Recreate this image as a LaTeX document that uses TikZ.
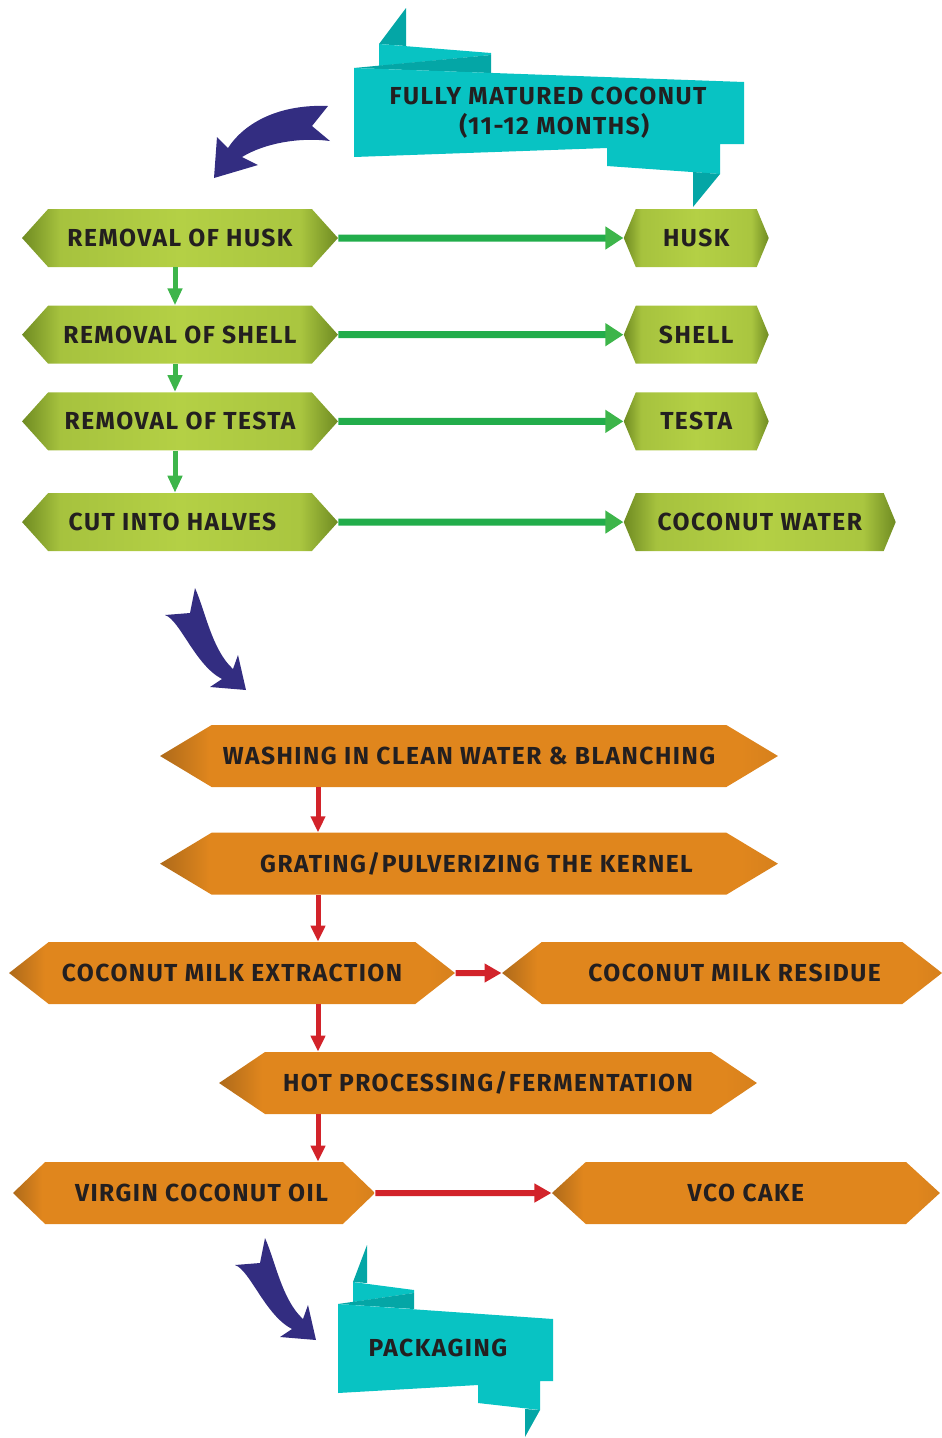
\documentclass[tikz,border=0pt]{standalone}
\usepackage{fontspec}
\setmainfont{Fira Sans}[LetterSpace=6]
\usepackage{tikz}
\usetikzlibrary{arrows.meta, positioning, shapes.symbols}

\definecolor{gdark}{HTML}{6F8B22}
\definecolor{glight}{HTML}{B4D045}
\definecolor{odark}{HTML}{AE6A1A}
\definecolor{olight}{HTML}{E0861D}
\definecolor{gline}{HTML}{22AD4B}
\definecolor{ghead}{HTML}{3DB54A}
\definecolor{rline}{HTML}{D2232A}
\definecolor{ribbon}{HTML}{08C3C3}
\definecolor{ribbondark}{HTML}{04A6A6}
\definecolor{curlblue}{HTML}{332D81}
\definecolor{txt}{HTML}{231F20}

\pgfdeclarehorizontalshading{greenhex}{100bp}{color(0bp)=(gdark); color(25bp)=(gdark); color(31bp)=(glight!80!gdark); color(50bp)=(glight); color(69bp)=(glight!85!gdark); color(75bp)=(gdark); color(100bp)=(gdark)}
\pgfdeclarehorizontalshading{orangehex}{100bp}{color(0bp)=(odark); color(25bp)=(odark); color(29bp)=(olight); color(72bp)=(olight); color(75bp)=(olight!80!odark); color(100bp)=(olight!80!odark)}

\tikzstyle{garrow} = [line width=1.4mm, gline, -{Triangle[length=3.6mm, width=4.4mm, color=ghead]}]
\tikzstyle{gdown} = [line width=1mm, ghead, -{Triangle[length=3.4mm, width=2.8mm]}]
\tikzstyle{rarrow} = [line width=1mm, rline, -{Triangle[length=3.2mm, width=2.8mm]}]
\tikzstyle{rside} = [line width=1.2mm, rline, -{Triangle[length=3.4mm, width=3.6mm]}]
\tikzstyle{curl} = [fill=curlblue]

\tikzset{
	greenhex/.style = {shape=signal, signal to=west and east, shading=greenhex,
		minimum height=1.16cm, inner xsep=2mm, text=txt,
		font=\fontsize{14}{16}\selectfont\bfseries},
	orangehex/.style = {shape=signal, signal to=west and east, shading=orangehex,
		minimum height=1.24cm, inner xsep=2mm, text=txt,
		font=\fontsize{14}{16}\selectfont\bfseries},
	bannertext/.style = {align=center, text=txt,
		font=\fontsize{14}{17}\selectfont\bfseries}
}

\begin{document}
\begin{tikzpicture}[x=0.02cm, y=-0.02cm]
\useasboundingbox (0,0) rectangle (941,1438);
%----------------------------------------------------------------------------
% Ribbons
\fill[ribbondark] (379,44) -- (406,8) -- (406,46) -- cycle;
\fill[ribbon] (379,44) -- (491,53) -- (491,55) -- (379,66) -- cycle;
\fill[ribbondark] (354,68) -- (491,55) -- (491,73) -- cycle;
\fill[ribbon] (354,68) -- (744,82) -- (744,144) -- (720,144) -- (720,174) -- (607,166) -- (607,148) -- (354,157) -- cycle;
\fill[ribbondark] (693,172) -- (720,174) -- (693,207) -- cycle;
\node (matured) [bannertext] at (548,113) {FULLY MATURED COCONUT\\\hspace*{0.25cm}(11-12 MONTHS)};

\fill[ribbondark] (353,1282) -- (367,1245) -- (367,1283) -- cycle;
\fill[ribbon] (353,1282) -- (414,1290) -- (414,1293) -- (353,1302) -- cycle;
\fill[ribbondark] (338,1304) -- (414,1293) -- (414,1309) -- cycle;
\fill[ribbon] (338,1304) -- (553,1319) -- (553,1381) -- (540,1381) -- (540,1410) -- (478,1403) -- (478,1385) -- (338,1393) -- cycle;
\fill[ribbondark] (525,1409) -- (540,1410) -- (525,1437) -- cycle;
\node (packing) [bannertext] at (438,1348) {PACKAGING};

%----------------------------------------------------------------------------
% Curly arrows
\fill[curl] (328,106) -- (312,126) -- (330,141) .. controls (300,137) and (265,143) .. (242,157) -- (258,165) -- (214,178) -- (217,137) -- (228,148) .. controls (245,122) and (280,104) .. (328,106) -- cycle;
\fill[curl] (195,588) -- (190,613) -- (165,615) .. controls (180,620) and (195,665) .. (222,679) -- (210,687) -- (246,690) -- (238,655) -- (233,669) .. controls (212,650) and (205,610) .. (195,588) -- cycle;
\fill[curl, shift={(70,650)}] (195,588) -- (190,613) -- (165,615) .. controls (180,620) and (195,665) .. (222,679) -- (210,687) -- (246,690) -- (238,655) -- (233,669) .. controls (212,650) and (205,610) .. (195,588) -- cycle;

%----------------------------------------------------------------------------
% Green steps
\node (hremove) [greenhex, minimum width=6.32cm, signal pointer angle=96] at (180,238) {REMOVAL OF HUSK};
\node (sremove) [greenhex, minimum width=6.32cm, signal pointer angle=96, below=0.76cm of hremove] {REMOVAL OF SHELL};
\node (tremove) [greenhex, minimum width=6.32cm, signal pointer angle=96, below=0.56cm of sremove] {REMOVAL OF TESTA};
\node (halves) [greenhex, minimum width=6.32cm, signal pointer angle=96, below=0.84cm of tremove] {CUT INTO HALVES\hspace*{0.3cm}};

\node (husk) [greenhex, minimum width=2.9cm, signal pointer angle=135, right=5.7cm of hremove] {HUSK};
\node (shell) [greenhex, minimum width=2.9cm, signal pointer angle=135, right=5.7cm of sremove] {SHELL};
\node (testa) [greenhex, minimum width=2.9cm, signal pointer angle=135, right=5.7cm of tremove] {TESTA};
\node (cwater) [greenhex, minimum width=5.44cm, signal pointer angle=135, right=5.7cm of halves] {COCONUT WATER};

%----------------------------------------------------------------------------
% Orange steps
\node (wash) [orangehex, minimum width=12.36cm, signal pointer angle=62] at (469,756) {WASHING IN CLEAN WATER \& BLANCHING};
\node (grate) [orangehex, minimum width=12.36cm, signal pointer angle=62, below=0.9cm of wash] {\hspace*{0.3cm}GRATING/PULVERIZING THE KERNEL};
\node (milk) [orangehex, minimum width=8.92cm, signal pointer angle=76] at (232,973) {COCONUT MILK EXTRACTION};
\node (residue) [orangehex, minimum width=8.8cm, signal pointer angle=76, right=0.92cm of milk] {\hspace*{0.5cm}COCONUT MILK RESIDUE};
\node (hotproc) [orangehex, minimum width=10.76cm, signal pointer angle=68] at (488,1083) {HOT PROCESSING/FERMENTATION};
\node (vco) [orangehex, minimum width=7.24cm, signal pointer angle=88] at (194,1193) {\hspace*{0.3cm}VIRGIN COCONUT OIL};
\node (cake) [orangehex, minimum width=7.76cm, signal pointer angle=85, right=3.52cm of vco] {VCO CAKE};

%----------------------------------------------------------------------------
% Lines
\coordinate (gx) at (175,0);
\coordinate (rx) at (318,0);

\draw [garrow] (hremove) -- (husk);
\draw [garrow] (sremove) -- (shell);
\draw [garrow] (tremove) -- (testa);
\draw [garrow] (halves) -- (cwater);

\draw [gdown] (hremove.south -| gx) -- (sremove.north -| gx);
\draw [gdown] (sremove.south -| gx) -- (tremove.north -| gx);
\draw [gdown] (tremove.south -| gx) -- (halves.north -| gx);

\draw [rarrow] (wash.south -| rx) -- (grate.north -| rx);
\draw [rarrow] (grate.south -| rx) -- (milk.north -| rx);
\draw [rarrow] (milk.south -| rx) -- (hotproc.north -| rx);
\draw [rarrow] (hotproc.south -| rx) -- (vco.north -| rx);
\draw [rside] (milk) -- (residue);
\draw [rside] (vco) -- (cake);
\end{tikzpicture}
\end{document}
